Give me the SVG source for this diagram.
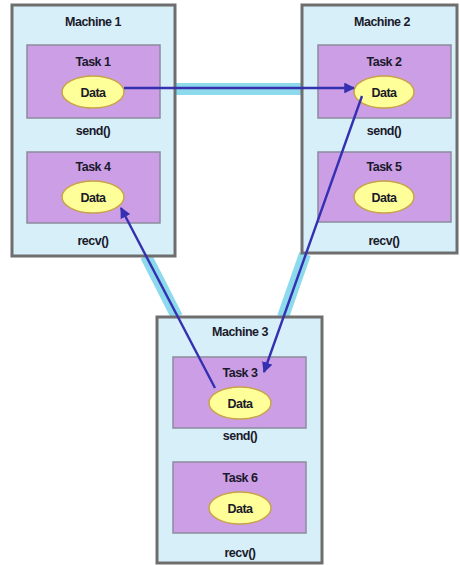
<svg xmlns="http://www.w3.org/2000/svg" width="460" height="565" viewBox="0 0 460 565">
<defs>
<style>
.machine{fill:#d6eff9;stroke:#6e6e6e;stroke-width:3}
.task{fill:#cb9ee6;stroke:#8c8c9c;stroke-width:1.5}
.data{fill:#ffff99;stroke:#c9a24a;stroke-width:1.5}
text{font-family:"Liberation Sans",Arial,sans-serif;font-weight:bold;font-size:12.5px;fill:#1a1a2a;text-anchor:middle;letter-spacing:-0.5px}
.band{stroke:#7fd6ea;stroke-width:12;fill:none;opacity:0.9}
.arrow{stroke:#3430b0;stroke-width:2.4;fill:none;marker-end:url(#ah)}
</style>
<marker id="ah" viewBox="0 0 10 10" refX="9" refY="5" markerWidth="4.5" markerHeight="4.5" orient="auto" markerUnits="strokeWidth">
<path d="M0,0 L10,5 L0,10 z" fill="#3430b0"/>
</marker>
</defs>
<rect width="460" height="565" fill="#ffffff"/>
<g id="bands">
<line class="band" x1="176" y1="89" x2="302" y2="89"/>
<line class="band" x1="146" y1="256" x2="177" y2="317"/>
<line class="band" x1="305" y1="254" x2="283" y2="317"/>
</g>
<g id="machine1">
<rect class="machine" x="12" y="5" width="163" height="251"/>
<text x="93" y="26">Machine 1</text>
<g id="task1">
<rect class="task" x="27" y="45" width="133" height="73"/>
<text x="93" y="66">Task 1</text>
<ellipse class="data" cx="93" cy="92" rx="31" ry="16"/>
<text x="93" y="97">Data</text>
</g>
<text x="93" y="135">send()</text>
<g id="task4">
<rect class="task" x="27" y="152" width="133" height="71"/>
<text x="93" y="171">Task 4</text>
<ellipse class="data" cx="93" cy="197" rx="31" ry="16"/>
<text x="93" y="202">Data</text>
</g>
<text x="93" y="245">recv()</text>
</g>
<g id="machine2">
<rect class="machine" x="302" y="5" width="155" height="248"/>
<text x="382" y="26">Machine 2</text>
<g id="task2">
<rect class="task" x="318" y="45" width="133" height="73"/>
<text x="384" y="66">Task 2</text>
<ellipse class="data" cx="384" cy="92" rx="30" ry="16"/>
<text x="384" y="97">Data</text>
</g>
<text x="384" y="135">send()</text>
<g id="task5">
<rect class="task" x="318" y="152" width="133" height="70"/>
<text x="384" y="171">Task 5</text>
<ellipse class="data" cx="384" cy="197" rx="30" ry="16"/>
<text x="384" y="202">Data</text>
</g>
<text x="384" y="245">recv()</text>
</g>
<g id="machine3">
<rect class="machine" x="157" y="317" width="165" height="246"/>
<text x="240" y="336">Machine 3</text>
<g id="task3">
<rect class="task" x="173" y="357" width="133" height="71"/>
<text x="240" y="377">Task 3</text>
<ellipse class="data" cx="240" cy="403" rx="31" ry="16"/>
<text x="240" y="408">Data</text>
</g>
<text x="240" y="440">send()</text>
<g id="task6">
<rect class="task" x="173" y="462" width="133" height="71"/>
<text x="240" y="482">Task 6</text>
<ellipse class="data" cx="240" cy="508" rx="31" ry="16"/>
<text x="240" y="513">Data</text>
</g>
<text x="240" y="557">recv()</text>
</g>
<g id="connectors">
<line class="arrow" x1="124" y1="88" x2="354" y2="88"/>
<line class="arrow" x1="362" y1="96" x2="264" y2="372"/>
<line class="arrow" x1="215" y1="388" x2="121" y2="208"/>
</g>
</svg>
